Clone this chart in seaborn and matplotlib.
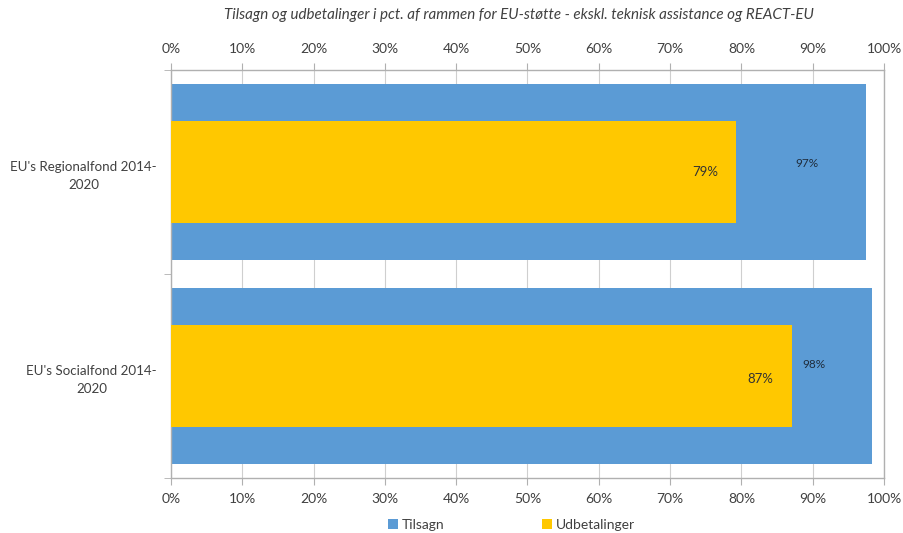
import pandas as pd
import matplotlib.pyplot as plt
import seaborn as sns
import numpy as np

# values (pct. of the EU budget)
categories = ["EU's Regionalfond 2014-\n2020", "EU's Socialfond 2014-\n2020"]
tilsagn = [97.4, 98.3]
udbetalinger = [79.3, 87.1]
xticks = list(range(0, 101, 10))

blue = '#5B9BD5'
yellow = '#FFC800'
text_col = '#404040'

sns.set_style('white')
plt.rcParams['font.family'] = ['Lato', 'DejaVu Sans']

fig = plt.figure(figsize=(9.04, 5.33), dpi=100)
ax = fig.add_axes([0.189, 0.103, 0.789, 0.766])

# wide blue bar behind, narrow yellow bar on top
sns.barplot(x=tilsagn, y=categories, orient='h', color=blue, width=0.86, saturation=1,
            linewidth=0, ax=ax, label='Tilsagn', zorder=2)
sns.barplot(x=udbetalinger, y=categories, orient='h', color=yellow, width=0.5, saturation=1,
            linewidth=0, ax=ax, label='Udbetalinger', zorder=3)
if ax.get_legend() is not None:
    ax.get_legend().remove()

ax.set_xlim(0, 100)
ax.set_ylim(1.5, -0.5)
ax.set_xticks(xticks)
ax.set_xticklabels([f'{t}%' for t in xticks])
ax.set_xlabel('')
ax.set_ylabel('')
ax.grid(axis='x', color='#cfcfcf', linewidth=0.8, zorder=0)
ax.set_axisbelow(True)

for s in ax.spines.values():
    s.set_color('#b0b0b0')
    s.set_linewidth(1.0)

ax.tick_params(axis='x', top=True, labeltop=True, bottom=True, labelbottom=True,
               direction='out', length=5, color='#b0b0b0', labelsize=10,
               labelcolor=text_col, pad=6)
# category ticks at the boundaries, labels in the middle
ax.set_yticks([-0.5, 0.5, 1.5], minor=True)
ax.tick_params(axis='y', which='minor', left=True, length=5, color='#b0b0b0', direction='out')
ax.tick_params(axis='y', which='major', left=False, labelsize=9.6, labelcolor=text_col, pad=6.5)
for lab in ax.get_yticklabels():
    lab.set_multialignment('center')
    lab.set_linespacing(1.6)

# data labels
offs_y = [[0, -6], [2, -8]]
for i in range(len(categories)):
    ax.annotate(f'{udbetalinger[i]:.0f}%', (udbetalinger[i] - 4.4, i),
                xytext=(0, -offs_y[i][0]), textcoords='offset points',
                ha='center', va='center', fontsize=9.5, color='#333333', zorder=5)
    ax.annotate(f'{tilsagn[i]:.0f}%', (tilsagn[i] - 8.2, i),
                xytext=(0, -offs_y[i][1]), textcoords='offset points',
                ha='center', va='center', fontsize=8.5, color='#1f2d3d', zorder=5)

fig.suptitle('Tilsagn og udbetalinger i pct. af rammen for EU-støtte - ekskl. teknisk assistance og REACT-EU',
             x=0.574, y=0.985, fontsize=10.9, style='italic', color=text_col)

handles, labels = ax.get_legend_handles_labels()
fig.legend(handles, labels, loc='lower center', bbox_to_anchor=(0.566, -0.02), ncol=2,
           frameon=False, handlelength=0.7, handleheight=0.7, handletextpad=0.3,
           columnspacing=7, fontsize=10, labelcolor=text_col)

fig.savefig('out.png', dpi=100)
